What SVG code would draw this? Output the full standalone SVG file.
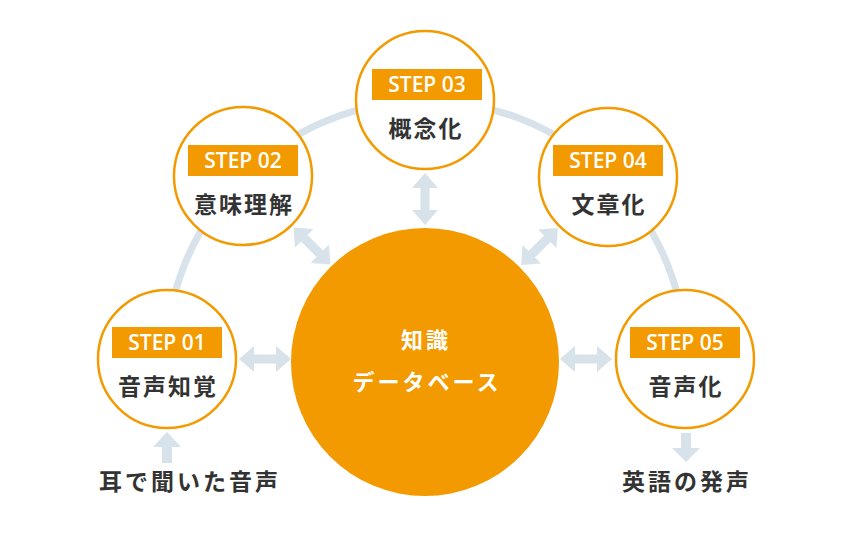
<svg xmlns="http://www.w3.org/2000/svg" width="848" height="538" viewBox="0 0 848 538">
<defs>
<style>
.ring{fill:none;stroke:#d7e2ea;stroke-width:7}
.arr{fill:#d7e2ea}
.step{fill:#fff;stroke:#f29a00;stroke-width:2.5}
.tag{fill:#f29a00}
.tagt{font-family:"Open Sans","Noto Sans",sans-serif;font-weight:600;font-size:21px;fill:#fff;text-anchor:middle}
.jp{font-family:"Noto Sans CJK JP",sans-serif;font-weight:700;font-size:23px;fill:#333;text-anchor:middle;letter-spacing:2px}
.cj{font-family:"Noto Sans CJK JP",sans-serif;font-weight:700;font-size:22px;fill:#fff;text-anchor:middle;letter-spacing:3px}
</style>
<polygon id="dbl" points="-26,0 -11,-13 -11,-4.5 11,-4.5 11,-13 26,0 11,13 11,4.5 -11,4.5 -11,13"/>
</defs>
<rect width="848" height="538" fill="#fff"/>
<g id="connectors">
<path class="ring" d="M166,361 A260,260 0 0 1 686,361"/>
<use href="#dbl" class="arr" transform="translate(265,359)"/>
<use href="#dbl" class="arr" transform="translate(586,359)"/>
<use href="#dbl" class="arr" transform="translate(425,199) rotate(90)"/>
<use href="#dbl" class="arr" transform="translate(312,246) rotate(45)"/>
<use href="#dbl" class="arr" transform="translate(539.5,246.5) rotate(-45)"/>
<polygon class="arr" points="167,432 181,447 172,447 172,463 162,463 162,447 153,447"/>
<polygon class="arr" points="686,462 700,448 691,448 691,433 681,433 681,448 672,448"/>
</g>
<g id="center">
<circle cx="425" cy="362" r="134" fill="#f29a00"/>
<text class="cj" x="426" y="348">知識</text>
<text class="cj" x="427" y="390">データベース</text>
</g>
<g id="step01">
<circle class="step" cx="167" cy="359" r="69"/>
<rect class="tag" x="112" y="327" width="110" height="31"/>
<text class="tagt" x="167" y="350">STEP 01</text>
<text class="jp" x="168" y="395">音声知覚</text>
</g>
<g id="step02">
<circle class="step" cx="243" cy="176" r="69"/>
<rect class="tag" x="188" y="145" width="110" height="31"/>
<text class="tagt" x="243" y="168">STEP 02</text>
<text class="jp" x="244" y="213">意味理解</text>
</g>
<g id="step03">
<circle class="step" cx="425" cy="100" r="69"/>
<rect class="tag" x="372" y="69" width="110" height="31"/>
<text class="tagt" x="427" y="92">STEP 03</text>
<text class="jp" x="426" y="137">概念化</text>
</g>
<g id="step04">
<circle class="step" cx="608" cy="177" r="69"/>
<rect class="tag" x="553" y="145" width="110" height="31"/>
<text class="tagt" x="608" y="168">STEP 04</text>
<text class="jp" x="609" y="213">文章化</text>
</g>
<g id="step05">
<circle class="step" cx="685" cy="359" r="69"/>
<rect class="tag" x="630" y="327" width="110" height="31"/>
<text class="tagt" x="685" y="350">STEP 05</text>
<text class="jp" x="686" y="395">音声化</text>
</g>
<g id="input"><text class="jp" x="190" y="490" style="letter-spacing:3px">耳で聞いた音声</text></g>
<g id="output"><text class="jp" x="687" y="490" style="letter-spacing:3px">英語の発声</text></g>
</svg>
